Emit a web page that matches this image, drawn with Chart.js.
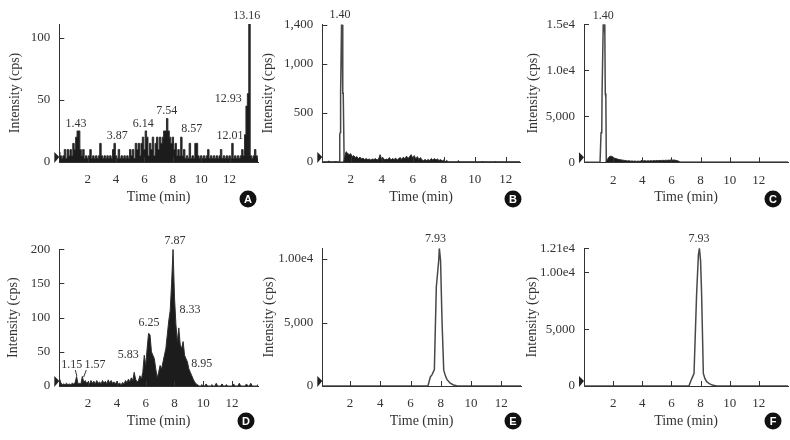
<!DOCTYPE html>
<html>
<head>
<meta charset="utf-8">
<script src="https://cdn.jsdelivr.net/npm/chart.js@4.4.1/dist/chart.umd.min.js"></script>
<style>
  body { margin: 0; background: #fff; }
  #wrap { position: relative; width: 790px; height: 440px; overflow: hidden; background: #fff; }
  #wrap canvas { position: absolute; }
</style>
</head>
<body>
<div id="wrap"></div>
<script>
const xTicks = [2, 4, 6, 8, 10, 12];

// A - blank, noisy trace
const timesA = [
  0, 0.1, 0.2, 0.3, 0.4, 0.5, 0.6, 0.7, 0.8, 0.9,
  1, 1.1, 1.2, 1.3, 1.4, 1.5, 1.6, 1.7, 1.8, 1.9,
  2, 2.1, 2.2, 2.3, 2.4, 2.5, 2.6, 2.7, 2.8, 2.9,
  3, 3.1, 3.2, 3.3, 3.4, 3.5, 3.6, 3.7, 3.8, 3.9,
  4, 4.1, 4.2, 4.3, 4.4, 4.5, 4.6, 4.7, 4.8, 4.9,
  5, 5.1, 5.2, 5.3, 5.4, 5.5, 5.6, 5.7, 5.8, 5.9,
  6, 6.1, 6.2, 6.3, 6.4, 6.5, 6.6, 6.7, 6.8, 6.9,
  7, 7.1, 7.2, 7.3, 7.4, 7.5, 7.6, 7.7, 7.8, 7.9,
  8, 8.1, 8.2, 8.3, 8.4, 8.5, 8.6, 8.7, 8.8, 8.9,
  9, 9.1, 9.2, 9.3, 9.4, 9.5, 9.6, 9.7, 9.8, 9.9,
  10, 10.1, 10.2, 10.3, 10.4, 10.5, 10.6, 10.7, 10.8, 10.9,
  11, 11.1, 11.2, 11.3, 11.4, 11.5, 11.6, 11.7, 11.8, 11.9,
  12, 12.1, 12.2, 12.3, 12.4, 12.5, 12.6, 12.7, 12.8, 12.9,
  13, 13.1, 13.2, 13.3, 13.4, 13.5, 13.6, 13.7, 13.8, 13.9,
  14
];
const cpsA = [
  8, 5, 3, 5, 10, 3, 10, 5, 10, 5,
  15, 10, 20, 25, 25, 10, 5, 10, 3, 5,
  3, 5, 10, 3, 5, 3, 5, 3, 5, 15,
  5, 3, 5, 3, 5, 3, 5, 3, 10, 15,
  5, 3, 10, 3, 5, 3, 5, 3, 5, 3,
  10, 5, 10, 3, 15, 10, 15, 5, 15, 20,
  10, 25, 20, 5, 15, 10, 20, 5, 15, 20,
  10, 20, 15, 20, 25, 25, 35, 25, 20, 15,
  20, 10, 15, 5, 10, 5, 20, 5, 10, 3,
  5, 3, 15, 3, 5, 3, 15, 15, 5, 3,
  5, 3, 5, 3, 5, 10, 3, 5, 3, 5,
  3, 5, 3, 5, 10, 3, 5, 3, 5, 3,
  5, 3, 15, 3, 5, 3, 5, 3, 5, 10,
  5, 22, 45, 55, 111, 5, 3, 5, 10, 5,
  3
];
const yTicksA = [0, 50, 100];
const yLabelsA = ['0', '50', '100'];
const peaksA = [['1.43', 1.18, 30.6], ['3.87', 4.09, 21], ['6.14', 5.92, 30.6], ['7.54', 7.57, 41],
                ['8.57', 9.33, 26.6], ['12.01', 12.03, 21], ['12.93', 11.91, 50.5], ['13.16', 13.2, 117.7]];

// B
const peakTimesB = [0.17, 1.25, 1.29, 1.30, 1.33, 1.35, 1.41, 1.45, 1.49, 1.52, 1.58, 1.60, 12.95];
const peakCpsB = [0, 0, 0, 280, 300, 700, 1400, 1400, 700, 700, 0, 0, 0];
const noiseTimesB = [
  0.2, 0.5, 0.6, 0.7, 0.95, 1.0, 1.05, 1.55,
  1.6, 1.7, 1.8, 1.9, 2, 2.1, 2.2, 2.3, 2.4, 2.5, 2.6, 2.7, 2.8, 2.9,
  3, 3.1, 3.2, 3.3, 3.4, 3.5, 3.6, 3.7, 3.8, 3.9,
  4, 4.1, 4.2, 4.3, 4.4, 4.5, 4.6, 4.7, 4.8, 4.9,
  5, 5.1, 5.2, 5.3, 5.4, 5.5, 5.6, 5.7, 5.8, 5.9,
  6, 6.1, 6.2, 6.3, 6.4, 6.5, 6.6, 6.7, 6.8, 6.9,
  7, 7.1, 7.2, 7.3, 7.4, 7.5, 7.6, 7.7, 7.8, 7.9,
  8, 8.1, 8.2, 8.3,
  8.9, 8.95, 9.0, 10.45, 10.5, 10.55, 11.3, 11.35, 11.4, 12.95
];
const noiseCpsB = [
  0, 0, 10, 0, 0, 8, 0, 0,
  40, 105, 90, 75, 85, 55, 65, 45, 55, 35, 50, 30, 40, 25,
  35, 25, 30, 20, 30, 25, 35, 20, 30, 75,
  25, 40, 20, 30, 25, 45, 20, 35, 25, 40,
  20, 35, 45, 25, 50, 30, 60, 35, 55, 75,
  40, 65, 30, 55, 25, 45, 20, 15, 25, 15,
  25, 15, 35, 20, 35, 20, 30, 15, 25, 10,
  20, 5, 15, 0,
  0, 15, 0, 0, 10, 0, 0, 8, 0, 0
];
const yTicksB = [0, 500, 1000, 1400];
const yLabelsB = ['0', '500', '1,000', '1,400'];
const peaksB = [['1.40', 1.31, 1502]];

// C
const peakTimesC = [0, 1.1, 1.16, 1.17, 1.22, 1.24, 1.32, 1.38, 1.43, 1.46, 1.5, 1.53, 14];
const peakCpsC = [0, 0, 0, 3200, 3400, 7500, 15000, 15000, 14000, 7500, 7000, 0, 0];
const noiseTimesC = [
  1.5, 1.6, 1.7, 1.8, 1.9, 2, 2.1, 2.2, 2.3, 2.4, 2.5, 2.6, 2.7, 2.8, 2.9,
  3, 3.1, 3.2, 3.3, 3.4, 3.5, 3.6, 3.7, 3.8, 3.9,
  4, 4.1, 4.2, 4.3, 4.4, 4.5, 4.6, 4.7, 4.8, 4.9,
  5, 5.1, 5.2, 5.3, 5.4, 5.5, 5.6, 5.7, 5.8, 5.9,
  6, 6.1, 6.2, 6.3, 6.4, 6.5, 6.6, 14
];
const noiseCpsC = [
  0, 300, 550, 650, 650, 550, 450, 400, 350, 300, 280, 250, 220, 200, 180,
  150, 180, 120, 150, 110, 140, 100, 130, 110, 140,
  250, 150, 180, 130, 170, 140, 180, 150, 190, 160,
  200, 170, 210, 180, 220, 190, 230, 200, 240, 210,
  300, 220, 260, 200, 180, 120, 0, 0
];
const yTicksC = [0, 5000, 10000, 15000];
const yLabelsC = ['0', '5,000', '1.0e4', '1.5e4'];
const peaksC = [['1.40', 1.32, 15900]];

// D
const timesD = [
  0, 0.1, 0.2, 0.3, 0.4, 0.5, 0.6, 0.7, 0.8, 0.9,
  1, 1.1, 1.2, 1.3, 1.4, 1.5, 1.6, 1.7, 1.8, 1.9,
  2, 2.1, 2.2, 2.3, 2.4, 2.5, 2.6, 2.7, 2.8, 2.9,
  3, 3.1, 3.2, 3.3, 3.4, 3.5, 3.6, 3.7, 3.8, 3.9,
  4, 4.1, 4.2, 4.3, 4.4, 4.5, 4.6, 4.7, 4.8, 4.9,
  5, 5.1, 5.2, 5.3, 5.4, 5.5, 5.6, 5.7, 5.8, 5.9,
  6, 6.1, 6.2, 6.3, 6.4, 6.5, 6.6, 6.7, 6.8, 6.9,
  7, 7.1, 7.2, 7.3, 7.4, 7.5, 7.6, 7.7, 7.8, 7.9,
  8, 8.1, 8.2, 8.3, 8.4, 8.5, 8.6, 8.7, 8.8, 8.9,
  9, 9.1, 9.2, 9.3, 9.4, 9.5, 9.6, 9.7, 9.8, 9.9,
  10, 10.1, 10.2, 10.3, 10.4, 10.5, 10.6, 10.7, 10.8, 10.9,
  11, 11.1, 11.2, 11.3, 11.4, 11.5, 11.6, 11.7, 11.8, 11.9,
  12, 12.1, 12.2, 12.3, 12.4, 12.5, 12.6, 12.7, 12.8, 12.9,
  13, 13.1, 13.2, 13.3, 13.4, 13.5, 13.6, 13.7, 13.8
];
const cpsD = [
  12, 5, 2, 3, 2, 4, 2, 3, 2, 4,
  3, 5, 14, 3, 4, 3, 14, 5, 8, 4,
  6, 3, 8, 4, 7, 3, 8, 4, 6, 3,
  8, 4, 7, 3, 9, 4, 8, 4, 6, 3,
  7, 3, 4, 2, 5, 3, 8, 5, 10, 6,
  12, 8, 20, 10, 6, 8, 15, 10, 20, 45,
  30, 55, 77, 75, 50, 45, 40, 25, 12, 20,
  30, 25, 35, 45, 55, 75, 95, 110, 150, 200,
  130, 90, 65, 85, 60, 55, 65, 45, 40, 35,
  25, 20, 15, 10, 6, 3, 2, 0, 0, 2,
  0, 0, 3, 0, 0, 0, 2, 0, 0, 4,
  0, 0, 0, 3, 0, 0, 2, 0, 0, 0,
  0, 3, 0, 0, 0, 4, 0, 0, 0, 0,
  3, 0, 0, 4, 0, 0, 0, 0, 2
];
const yTicksD = [0, 50, 100, 150, 200];
const yLabelsD = ['0', '50', '100', '150', '200'];
const peaksD = [['7.87', 8.03, 212], ['6.25', 6.23, 92.4], ['8.33', 9.08, 112], ['5.83', 4.79, 46.3],
                ['8.95', 9.89, 33], ['1.15', 0.86, 30.7], ['1.57', 2.48, 30.7]];
const leadersD = [[1.11, 23.4, 1.22, 14.6], [1.875, 23.4, 1.69, 13]];

// E
const timesE = [0.16, 7.15, 7.3, 7.42, 7.57, 7.7, 7.86, 7.9, 7.98, 8.08, 8.19, 8.3, 8.41, 8.6, 8.8, 9.08, 13.3];
const cpsE = [0, 0, 700, 900, 1300, 7800, 9900, 10843, 9900, 5000, 1250, 800, 500, 250, 100, 0, 0];
const yTicksE = [0, 5000, 10000];
const yLabelsE = ['0', '5,000', '1.00e4'];
const peaksE = [['7.93', 7.64, 11551]];

// F
const timesF = [0, 7.2, 7.35, 7.45, 7.55, 7.73, 7.85, 7.92, 8.0, 8.07, 8.19, 8.3, 8.42, 8.6, 8.8, 9.1, 14];
const cpsF = [0, 0, 500, 800, 1100, 8150, 11500, 12100, 11000, 8150, 1100, 650, 380, 200, 80, 0, 0];
const yTicksF = [0, 5000, 10000, 12100];
const yLabelsF = ['0', '5,000', '1.00e4', '1.21e4'];
const peaksF = [['7.93', 7.9, 12891]];

const INK = '#333';
const SERIF = 'Liberation Serif';

const panels = [
  { letter: 'A', area: {l: 59.3, t: 24, r: 258, b: 162}, top: 0, h: 210, right: 262, yTitleX: 15, xTitleY: 197,
    xMin: 0, xMax: 14, yMax: 111, yTicks: yTicksA, yLabels: yLabelsA, peaks: peaksA, circle: [248, 199],
    series: [{t: timesA, v: cpsA, fill: true, stepped: 'middle'}] },
  { letter: 'B', area: {l: 322.3, t: 24.5, r: 520, b: 162}, top: 0, h: 210, right: 524, yTitleX: 268, xTitleY: 197,
    xMin: 0.17, xMax: 12.92, yMax: 1400, yTicks: yTicksB, yLabels: yLabelsB, peaks: peaksB, circle: [513, 199],
    series: [{t: noiseTimesB, v: noiseCpsB, fill: true}, {t: peakTimesB, v: peakCpsB}] },
  { letter: 'C', area: {l: 584, t: 24.3, r: 788, b: 162.3}, top: 0, h: 210, right: 790, yTitleX: 533, xTitleY: 197,
    xMin: 0, xMax: 14, yMax: 15000, yTicks: yTicksC, yLabels: yLabelsC, peaks: peaksC, circle: [773, 199],
    series: [{t: noiseTimesC, v: noiseCpsC, fill: true}, {t: peakTimesC, v: peakCpsC}] },
  { letter: 'D', area: {l: 59.3, t: 249.3, r: 258, b: 386}, top: 210, h: 230, right: 262, yTitleX: 13, xTitleY: 421,
    xMin: 0, xMax: 13.8, yMax: 200, yTicks: yTicksD, yLabels: yLabelsD, peaks: peaksD, leaders: leadersD, circle: [246, 421],
    series: [{t: timesD, v: cpsD, fill: true}] },
  { letter: 'E', area: {l: 322.3, t: 248.3, r: 521, b: 386}, top: 210, h: 230, right: 524, yTitleX: 269, xTitleY: 421,
    xMin: 0.16, xMax: 13.3, yMax: 10843, yTicks: yTicksE, yLabels: yLabelsE, peaks: peaksE, circle: [513, 421],
    series: [{t: timesE, v: cpsE}] },
  { letter: 'F', area: {l: 584, t: 248.3, r: 788, b: 386}, top: 210, h: 230, right: 790, yTitleX: 532, xTitleY: 421,
    xMin: 0, xMax: 14, yMax: 12100, yTicks: yTicksF, yLabels: yLabelsF, peaks: peaksF, circle: [773, 421],
    series: [{t: timesF, v: cpsF}] }
];

// inward ticks, start marker, peak labels and the panel letter
function decor(p, cx, cy) {
  return {
    id: 'decor' + p.letter,
    afterDraw(chart) {
      const ctx = chart.ctx, xs = chart.scales.x, ys = chart.scales.y, a = chart.chartArea;
      ctx.save();
      ctx.strokeStyle = INK;
      ctx.lineWidth = 1;
      ctx.beginPath();
      xTicks.forEach(v => {
        const px = Math.round(xs.getPixelForValue(v)) + 0.5;
        ctx.moveTo(px, a.bottom);
        ctx.lineTo(px, a.bottom - 5);
      });
      p.yTicks.forEach(v => {
        const py = Math.round(ys.getPixelForValue(v)) + 0.5;
        ctx.moveTo(a.left, py);
        ctx.lineTo(a.left + 5, py);
      });
      ctx.stroke();

      ctx.fillStyle = '#222';
      ctx.beginPath();
      ctx.moveTo(a.left - 5, a.bottom - 10);
      ctx.lineTo(a.left, a.bottom - 5);
      ctx.lineTo(a.left - 5, a.bottom + 1);
      ctx.closePath();
      ctx.fill();

      ctx.fillStyle = INK;
      ctx.font = '12px "' + SERIF + '"';
      ctx.textAlign = 'center';
      ctx.textBaseline = 'middle';
      p.peaks.forEach(([txt, t, v]) => ctx.fillText(txt, xs.getPixelForValue(t), ys.getPixelForValue(v)));
      (p.leaders || []).forEach(([t1, v1, t2, v2]) => {
        ctx.beginPath();
        ctx.moveTo(xs.getPixelForValue(t1), ys.getPixelForValue(v1));
        ctx.lineTo(xs.getPixelForValue(t2), ys.getPixelForValue(v2));
        ctx.stroke();
      });

      const [lx, ly] = [p.circle[0] - cx, p.circle[1] - cy];
      ctx.fillStyle = '#111';
      ctx.beginPath();
      ctx.arc(lx, ly, 8.5, 0, Math.PI * 2);
      ctx.fill();
      ctx.fillStyle = '#fff';
      ctx.font = 'bold 11px "Liberation Sans"';
      ctx.fillText(p.letter, lx, ly + 0.5);
      ctx.restore();
    }
  };
}

const wrap = document.getElementById('wrap');

panels.forEach(p => {
  const cx = Math.floor(p.yTitleX - 10.4);
  const cy = p.top;
  const W = p.right - cx, H = p.h;
  const canvas = document.createElement('canvas');
  canvas.width = W;
  canvas.height = H;
  canvas.style.left = cx + 'px';
  canvas.style.top = cy + 'px';
  wrap.appendChild(canvas);

  const datasets = p.series.map(s => ({
    data: s.t.map((t, i) => ({x: t, y: s.v[i]})),
    borderColor: s.fill ? '#2e2e2e' : '#484848',
    backgroundColor: '#1c1c1c',
    borderWidth: s.fill ? 1 : 1.5,
    fill: s.fill ? 'origin' : false,
    stepped: s.stepped || false,
    pointRadius: 0,
    tension: 0
  }));

  new Chart(canvas, {
    type: 'line',
    data: { datasets },
    options: {
      responsive: false,
      animation: false,
      events: [],
      layout: {
        padding: {
          left: p.yTitleX - 8.4 - cx,
          top: p.area.t - cy,
          right: p.right - p.area.r,
          bottom: cy + H - (p.xTitleY + 8.4)
        }
      },
      plugins: { legend: { display: false }, tooltip: { enabled: false } },
      scales: {
        x: {
          type: 'linear',
          min: p.xMin,
          max: p.xMax,
          grid: { display: false, drawTicks: false, tickLength: 0 },
          border: { display: true, color: INK, width: 1 },
          ticks: { color: INK, font: { family: SERIF, size: 13 }, padding: 10, autoSkip: false, maxRotation: 0,
                   callback: v => String(v) },
          title: { display: true, text: 'Time (min)', color: INK, font: { family: SERIF, size: 14 }, padding: 0 },
          afterBuildTicks: s => { s.ticks = xTicks.map(v => ({value: v})); },
          afterFit: s => { s.height = p.xTitleY + 8.4 - p.area.b; }
        },
        y: {
          type: 'linear',
          min: 0,
          max: p.yMax,
          grid: { display: false, drawTicks: false, tickLength: 0 },
          border: { display: true, color: INK, width: 1 },
          ticks: { color: INK, font: { family: SERIF, size: 13 }, padding: 9, autoSkip: false,
                   callback: (v, i) => p.yLabels[i] },
          title: { display: true, text: 'Intensity (cps)', color: INK, font: { family: SERIF, size: 14 }, padding: 0 },
          afterBuildTicks: s => { s.ticks = p.yTicks.map(v => ({value: v})); },
          afterFit: s => { s.width = p.area.l - cx - (p.yTitleX - 8.4 - cx); }
        }
      }
    },
    plugins: [decor(p, cx, cy)]
  });
});
</script>
</body>
</html>
